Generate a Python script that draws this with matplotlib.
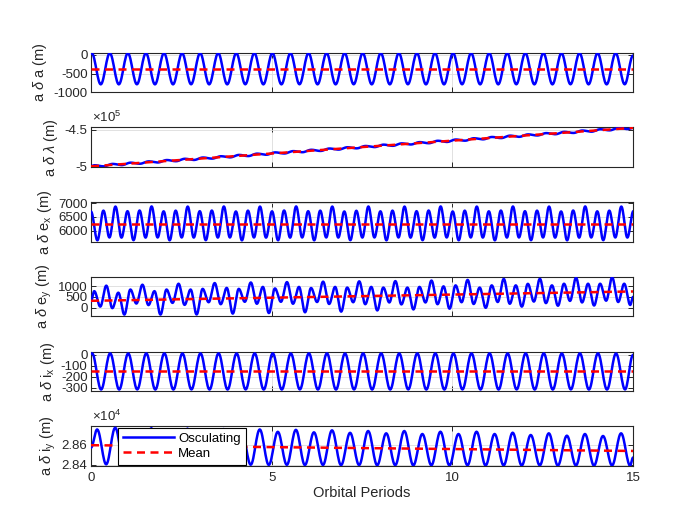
import numpy as np
import matplotlib
matplotlib.use('Agg')
import matplotlib.pyplot as plt

plt.rcParams['font.family'] = ['Liberation Sans', 'DejaVu Sans']
plt.rcParams['mathtext.fontset'] = 'custom'
plt.rcParams['mathtext.rm'] = 'Liberation Sans'
plt.rcParams['mathtext.it'] = 'Liberation Sans:italic'
plt.rcParams['mathtext.bf'] = 'Liberation Sans:bold'
plt.rcParams['axes.unicode_minus'] = False

# =============================================
# Data (extrema of each curve)
# =============================================

T_END = 15
mean_t = [0, 15]

# a*delta a : 2 cycles per orbit, first peak at 0.02
da_peaks = [45, 45, 44, 45, 45, 44, 45, 45, 44, 45, 45, 44, 45, 45, 44,
            45, 45, 44, 45, 45, 44, 45, 45, 44, 45, 45, 44, 45, 45, 44]
da_troughs = [-790, -790, -788, -790, -790, -788, -790, -790, -788, -790,
              -790, -788, -790, -790, -788, -790, -790, -788, -790, -790,
              -788, -790, -790, -788, -790, -790, -788, -790, -790, -788]
da_start, da_end = 30, -20
da_mean = [-372, -372]

# a*delta lambda : slow drift with small wiggles, first peak at 0.1
dl_peaks = [-497700, -495900, -494200, -492500, -490700, -489000, -487300,
            -485600, -483800, -482100, -480400, -478700, -476900, -475200,
            -473500, -471800, -470000, -468300, -466600, -464800, -463100,
            -461400, -459700, -457900, -456200, -454500, -452800, -451000,
            -449300, -447600]
dl_troughs = [-499200, -497500, -495700, -494000, -492300, -490600, -488800,
              -487100, -485400, -483600, -481900, -480200, -478500, -476700,
              -475000, -473300, -471600, -469800, -468100, -466400, -464700,
              -462900, -461200, -459500, -457700, -456000, -454300, -452600,
              -450800, -449100]
dl_start, dl_end = -498900, -447500
dl_mean = [-499200, -447400]

# a*delta ex : 3 cycles per orbit, per-orbit extrema in time order
dex_t0 = [5640, 5645, 5640, 5645, 5640, 5642, 5640, 5645, 5640, 5645, 5642, 5640, 5645, 5640, 5645]
dex_p1 = [6735, 6740, 6735, 6738, 6735, 6740, 6735, 6730, 6735, 6740, 6735, 6738, 6735, 6740, 6735]
dex_t1 = [5745, 5740, 5745, 5742, 5745, 5740, 5745, 5742, 5745, 5740, 5745, 5742, 5745, 5740, 5745]
dex_p2 = [6885, 6890, 6885, 6888, 6885, 6890, 6885, 6888, 6885, 6890, 6885, 6888, 6885, 6890, 6885]
dex_t2 = [5740, 5745, 5742, 5745, 5740, 5745, 5742, 5745, 5740, 5745, 5742, 5745, 5740, 5745, 5742]
dex_p0 = [6715, 6710, 6715, 6705, 6710, 6715, 6705, 6710, 6715, 6705, 6710, 6715, 6705, 6710, 6715]
dex_start = 6700
dex_mean = [6240, 6240]

# a*delta ey : 3 cycles per orbit with a once-per-orbit pattern
dey_A = [765, 840, 840, 870, 870, 890, 910, 930, 930, 960, 1030, 1030, 1100, 1105, 1105]
dey_a = [60, 200, 230, 260, 280, 280, 270, 260, 250, 250, 260, 270, 290, 320, 330]
dey_B = [1017, 1060, 1105, 1136, 1162, 1180, 1200, 1215, 1225, 1250, 1280, 1325, 1330, 1375, 1390]
dey_b = [-10, 130, 140, 170, 190, 190, 180, 170, 160, 170, 180, 190, 220, 250, 270]
dey_C = [695, 765, 840, 915, 960, 960, 960, 960, 930, 985, 930, 1030, 1030, 1105, 1105]
dey_c = [-305, -305, -300, -260, -235, -200, -170, -115, -70, -35, 5, 60, 100, 110, 135]
dey_start, dey_end = 300, 500
dey_mean = [325, 752]

# a*delta ix : 2 cycles per orbit, first peak at 0.03
dix_peaks = [15, 15, 14, 15, 15, 14, 15, 15, 14, 15, 15, 14, 15, 15, 14,
             15, 15, 14, 15, 15, 14, 15, 15, 14, 15, 15, 14, 15, 15, 14]
dix_troughs = [-315, -315, -314, -315, -315, -314, -315, -315, -314, -315,
               -315, -314, -315, -315, -314, -315, -315, -314, -315, -315,
               -314, -315, -315, -314, -315, -315, -314, -315, -315, -314]
dix_start, dix_end = 10, 0
dix_mean = [-148, -148]

# a*delta iy : 2 cycles per orbit, first peak at 0.17
diy_peaks = [28754, 28771, 28750, 28766, 28745, 28762, 28740, 28758, 28735, 28754,
             28730, 28750, 28725, 28745, 28720, 28738, 28715, 28738, 28708, 28731,
             28708, 28731, 28708, 28721, 28698, 28715, 28691, 28708, 28688, 28715]
diy_troughs = [28402, 28400, 28401, 28399, 28400, 28398, 28399, 28397, 28398, 28396,
               28397, 28395, 28396, 28394, 28395, 28393, 28394, 28392, 28393, 28392,
               28393, 28391, 28392, 28391, 28392, 28390, 28391, 28390, 28391, 28390]
diy_start, diy_end = 28570, 28470
diy_mean = [28595, 28537]


# =============================================
# Helpers
# =============================================

def smooth_through(t_ext, v_ext, n=14):
    """Half-cosine segments between consecutive extrema."""
    ts, vs = [], []
    for i in range(len(t_ext) - 1):
        s = np.linspace(0, 1, n, endpoint=False)
        ts.append(t_ext[i] + s * (t_ext[i + 1] - t_ext[i]))
        vs.append(v_ext[i] + (v_ext[i + 1] - v_ext[i]) * (1 - np.cos(np.pi * s)) / 2)
    ts.append([t_ext[-1]])
    vs.append([v_ext[-1]])
    return np.concatenate(ts), np.concatenate(vs)


def interleave(*cols):
    return np.column_stack(cols).ravel()


# extrema times (regular spacing of the oscillation)
t_da = np.r_[0, 0.02 + np.arange(60) * 0.25, T_END]
v_da = np.r_[da_start, interleave(da_peaks, da_troughs), da_end]

t_dl = np.r_[0, 0.10 + np.arange(60) * 0.25, T_END]
v_dl = np.r_[dl_start, interleave(dl_peaks, dl_troughs), dl_end]

t_dex = np.r_[0, 0.177 + np.arange(90) / 6]
v_dex = np.r_[dex_start, interleave(dex_t0, dex_p1, dex_t1, dex_p2, dex_t2, dex_p0)]

t_dey = np.r_[0, 0.09 + np.arange(90) / 6, T_END]
v_dey = np.r_[dey_start, interleave(dey_A, dey_a, dey_B, dey_b, dey_C, dey_c), dey_end]

t_dix = np.r_[0, 0.03 + np.arange(60) * 0.25, T_END]
v_dix = np.r_[dix_start, interleave(dix_peaks, dix_troughs), dix_end]

t_diy = np.r_[0, 0.17 + np.arange(60) * 0.25, T_END]
v_diy = np.r_[diy_start, interleave(diy_peaks, diy_troughs), diy_end]

panels = [
    (t_da, v_da, da_mean, r'a $\delta$ a (m)', (-1000, 58),
     [-1000, -500, 0], ['-1000', '-500', '0'], None),
    (t_dl, v_dl, dl_mean, r'a $\delta$ $\lambda$ (m)', (-500000, -446900),
     [-500000, -450000], ['-5', '-4.5'], '5'),
    (t_dex, v_dex, dex_mean, r'a $\delta$ e$_\mathrm{x}$ (m)', (5590, 7045),
     [6000, 6500, 7000], ['6000', '6500', '7000'], None),
    (t_dey, v_dey, dey_mean, r'a $\delta$ e$_\mathrm{y}$ (m)', (-390, 1415),
     [0, 500, 1000], ['0', '500', '1000'], None),
    (t_dix, v_dix, dix_mean, r'a $\delta$ i$_\mathrm{x}$ (m)', (-330, 30),
     [-300, -200, -100, 0], ['-300', '-200', '-100', '0'], None),
    (t_diy, v_diy, diy_mean, r'a $\delta$ i$_\mathrm{y}$ (m)', (28386, 28784),
     [28400, 28600], ['2.84', '2.86'], '4'),
]

# =============================================
# Figure
# =============================================

W, H = 700, 525
fig = plt.figure(figsize=(7, 5.25), dpi=100)
dark = '#262626'

axes = []
for i, (t_ext, v_ext, mean_v, ylab, ylim, yt, ytl, expo) in enumerate(panels):
    top = 52.7 + 74.75 * i
    ax = fig.add_axes([91 / W, 1 - (top + 39.5) / H, 542 / W, 39.5 / H])
    tt, vv = smooth_through(t_ext, v_ext)
    l1, = ax.plot(tt, vv, color='b', lw=1.8, label='Osculating', zorder=3)
    l2, = ax.plot(mean_t, mean_v, color='r', lw=1.8, dashes=(3.2, 2.2),
                  label='Mean', zorder=4)
    ax.set_xlim(0, T_END)
    ax.set_ylim(*ylim)
    ax.set_yticks(yt, ytl)
    ax.set_xticks([0, 5, 10, 15])
    ax.grid(True, color='#dcdcdc', lw=0.6)
    ax.set_axisbelow(True)
    ax.tick_params(direction='in', length=3.9, width=0.7, colors=dark,
                   labelsize=9.5, top=True, right=True, pad=2.5)
    for sp in ax.spines.values():
        sp.set_color(dark)
        sp.set_linewidth(0.8)
    ax.set_ylabel(ylab, fontsize=10.5, color=dark, labelpad=3)
    if expo:
        ax.annotate(r'$\times$10$^{%s}$' % expo, xy=(0, 1), xycoords='axes fraction',
                    xytext=(1, 2), textcoords='offset points', ha='left', va='bottom',
                    fontsize=9.5, color=dark)
    if i < len(panels) - 1:
        ax.tick_params(labelbottom=False)
    axes.append(ax)

axes[-1].set_xticks([0, 5, 10, 15], ['0', '5', '10', '15'])
axes[-1].tick_params(axis='x', pad=4)
axes[-1].set_xlabel('Orbital Periods', fontsize=10.5, color=dark, labelpad=2)

leg = axes[-1].legend(handles=[l1, l2], loc='upper left',
                      bbox_to_anchor=(118.3 / W, 1 - 427.7 / H),
                      bbox_transform=fig.transFigure, borderaxespad=0,
                      fontsize=9.5, handlelength=3.9, handletextpad=0.3,
                      borderpad=0.35, labelspacing=0.25, fancybox=False,
                      framealpha=1, edgecolor='black')
leg.get_frame().set_linewidth(0.8)
leg.set_zorder(10)

fig.savefig('out.png', dpi=100, facecolor='white')
